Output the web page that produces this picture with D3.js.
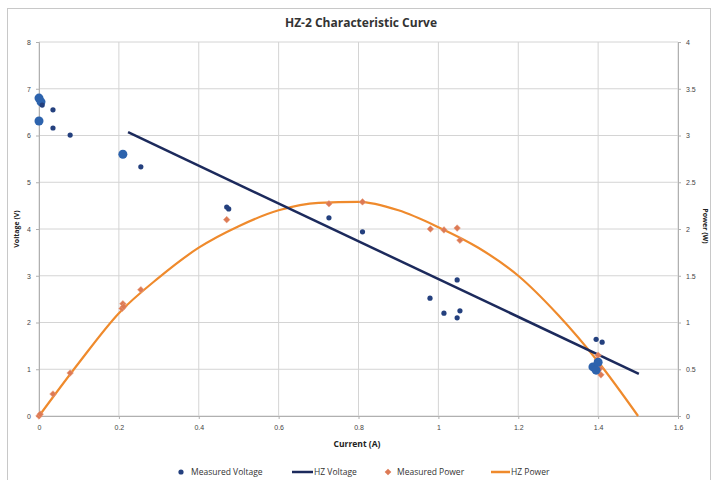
<!DOCTYPE html>
<html>
<head>
<meta charset="utf-8">
<script src="https://cdn.jsdelivr.net/npm/d3@7"></script>
<style>
  body { margin: 0; background: #fff; }
  svg { font-family: "Open Sans", "Liberation Sans", sans-serif; }
</style>
</head>
<body>
<script>
// measured voltage (current A, voltage V, big marker?)
const measVoltI = [0, 0.005, 0.008, 0, 0.035, 0.035, 0.078, 0.21, 0.255, 0.47, 0.475, 0.726, 0.81, 0.979, 1.014, 1.047, 1.054, 1.047, 1.395, 1.41, 1.387, 1.395, 1.40];
const measVoltV = [6.8, 6.72, 6.65, 6.31, 6.55, 6.16, 6.01, 5.6, 5.33, 4.47, 4.43, 4.24, 3.94, 2.52, 2.2, 2.1, 2.25, 2.91, 1.64, 1.58, 1.05, 0.98, 1.15];
const measVoltBig = [1, 1, 0, 1, 0, 0, 0, 1, 0, 0, 0, 0, 0, 0, 0, 0, 0, 0, 0, 0, 1, 1, 1];

// HZ voltage fit line
const hzVoltI = [0.223, 1.502];
const hzVoltV = [6.07, 0.9];

// measured power (current A, power W)
const measPowI = [0, 0.003, 0.035, 0.078, 0.208, 0.21, 0.212, 0.255, 0.47, 0.726, 0.81, 0.98, 1.014, 1.047, 1.054, 1.40, 1.398, 1.405, 1.407];
const measPowP = [0, 0.02, 0.235, 0.46, 1.15, 1.2, 1.17, 1.35, 2.1, 2.27, 2.29, 2.0, 1.99, 2.01, 1.88, 0.65, 0.6, 0.51, 0.44];

// HZ power curve
const hzPowI = [0, 0.1, 0.2, 0.3, 0.4, 0.5, 0.6, 0.7, 0.8, 0.9, 1.0, 1.1, 1.2, 1.3, 1.4, 1.5];
const hzPowP = [0, 0.57, 1.1, 1.48, 1.8, 2.03, 2.2, 2.28, 2.29, 2.2, 2.02, 1.8, 1.5, 1.08, 0.58, 0];

const xTicks = [0, 0.2, 0.4, 0.6, 0.8, 1, 1.2, 1.4, 1.6];
const yTicks = [0, 1, 2, 3, 4, 5, 6, 7, 8];
const y2Ticks = [0, 0.5, 1, 1.5, 2, 2.5, 3, 3.5, 4];

const W = 713, H = 480;
const svg = d3.select("body").append("svg").attr("width", W).attr("height", H);

// chart frame
svg.append("rect").attr("x", 7.5).attr("y", 8.5).attr("width", 703).attr("height", 480)
    .attr("fill", "#fff").attr("stroke", "#c8c8c8");

const x = d3.scaleLinear().domain([0, 1.6]).range([39, 678]);
const y = d3.scaleLinear().domain([0, 8]).range([416, 42]);
const y2 = d3.scaleLinear().domain([0, 4]).range([416, 42]);
const fmt = d3.format("~g");

// grid
svg.append("g").selectAll("line").data(xTicks).enter().append("line")
    .attr("x1", d => x(d)).attr("x2", d => x(d)).attr("y1", 42).attr("y2", 416)
    .attr("stroke", "#d4d4d4").attr("stroke-width", 1);
svg.append("g").selectAll("line").data(yTicks).enter().append("line")
    .attr("x1", 39).attr("x2", 678).attr("y1", d => y(d)).attr("y2", d => y(d))
    .attr("stroke", "#d4d4d4").attr("stroke-width", 1);

// axes
const axL = svg.append("g").attr("transform", "translate(39,0)")
    .call(d3.axisLeft(y).tickValues(yTicks).tickFormat(fmt).tickSize(3).tickPadding(5));
const axR = svg.append("g").attr("transform", "translate(678,0)")
    .call(d3.axisRight(y2).tickValues(y2Ticks).tickFormat(fmt).tickSize(3).tickPadding(5));
const axB = svg.append("g").attr("transform", "translate(0,416)")
    .call(d3.axisBottom(x).tickValues(xTicks).tickFormat(fmt).tickSize(3).tickPadding(6));
[axL, axR, axB].forEach(function (a) {
    a.selectAll("path, line").attr("stroke", "#b0b0b0");
    a.selectAll("text").style("font-size", "7px").attr("fill", "#444");
});

// HZ power curve
const powLine = d3.line().x((d, i) => x(hzPowI[i])).y(d => y2(d)).curve(d3.curveMonotoneX);
svg.append("path").datum(hzPowP).attr("d", powLine)
    .attr("fill", "none").attr("stroke", "#ef8a2c").attr("stroke-width", 2.2);

// HZ voltage line
const voltLine = d3.line().x((d, i) => x(hzVoltI[i])).y(d => y(d));
svg.append("path").datum(hzVoltV).attr("d", voltLine)
    .attr("fill", "none").attr("stroke", "#1c2a5c").attr("stroke-width", 2.5);

// measured power diamonds
const diamond = d3.symbol().type(d3.symbolSquare).size(22);
svg.append("g").selectAll("path").data(measPowP).enter().append("path")
    .attr("d", diamond)
    .attr("transform", (d, i) => "translate(" + x(measPowI[i]) + "," + y2(d) + ") rotate(45)")
    .attr("fill", "#dd7a55").attr("stroke", "#e8a080").attr("stroke-width", 0.5);

// measured voltage dots
svg.append("g").selectAll("circle").data(measVoltV).enter().append("circle")
    .attr("cx", (d, i) => x(measVoltI[i])).attr("cy", d => y(d))
    .attr("r", (d, i) => measVoltBig[i] ? 4.5 : 2.6)
    .attr("fill", (d, i) => measVoltBig[i] ? "#2d63ad" : "#24407e");

// titles
svg.append("text").attr("x", 361).attr("y", 27).attr("text-anchor", "middle")
    .style("font-size", "12px").style("font-weight", "bold").attr("fill", "#333")
    .text("HZ-2 Characteristic Curve");
svg.append("text").attr("x", 357).attr("y", 447).attr("text-anchor", "middle")
    .style("font-size", "8.5px").style("font-weight", "bold").attr("fill", "#222")
    .text("Current (A)");
svg.append("text").attr("transform", "translate(19,229) rotate(-90)").attr("text-anchor", "middle")
    .style("font-size", "7px").style("font-weight", "bold").attr("fill", "#222")
    .text("Voltage (V)");
svg.append("text").attr("transform", "translate(703,226) rotate(90)").attr("text-anchor", "middle")
    .style("font-size", "7px").style("font-weight", "bold").attr("fill", "#222")
    .text("Power (W)");

// legend
const legend = svg.append("g").style("font-size", "8.5px").attr("fill", "#333");
legend.append("circle").attr("cx", 181).attr("cy", 472).attr("r", 2.6).attr("fill", "#24407e");
legend.append("text").attr("x", 191).attr("y", 475).text("Measured Voltage");
legend.append("line").attr("x1", 292).attr("x2", 313).attr("y1", 472).attr("y2", 472)
    .attr("stroke", "#1c2a5c").attr("stroke-width", 2.5);
legend.append("text").attr("x", 314).attr("y", 475).text("HZ Voltage");
legend.append("path").attr("d", diamond)
    .attr("transform", "translate(388,472) rotate(45)").attr("fill", "#dd7a55");
legend.append("text").attr("x", 397).attr("y", 475).text("Measured Power");
legend.append("line").attr("x1", 491).attr("x2", 510).attr("y1", 472).attr("y2", 472)
    .attr("stroke", "#ef8a2c").attr("stroke-width", 2.5);
legend.append("text").attr("x", 511).attr("y", 475).text("HZ Power");
</script>
</body>
</html>
